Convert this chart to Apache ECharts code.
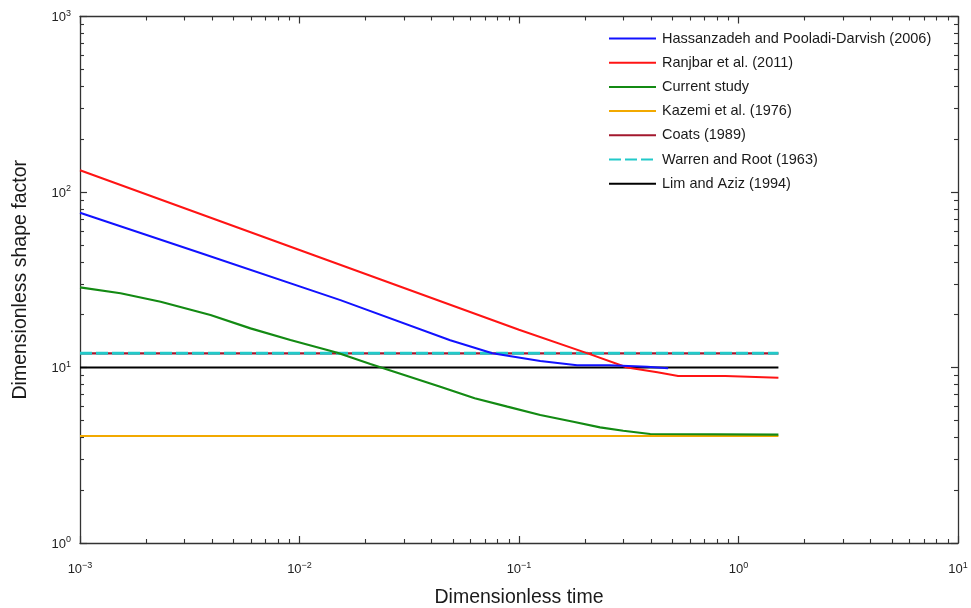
<!DOCTYPE html>
<html>
<head>
<meta charset="utf-8">
<script src="https://cdn.jsdelivr.net/npm/echarts@6/dist/echarts.min.js"></script>
<style>
html,body{margin:0;padding:0;background:#fff;}
#c{width:971px;height:608px;}
</style>
</head>
<body>
<div id="c"></div>
<script>
// ---- data ----
const seriesNames = [
  'Hassanzadeh and Pooladi-Darvish (2006)',
  'Ranjbar et al. (2011)',
  'Current study',
  'Kazemi et al. (1976)',
  'Coats (1989)',
  'Warren and Root (1963)',
  'Lim and Aziz (1994)'
];
const hassanT = [0.001, 0.00354, 0.01536, 0.0486, 0.0756, 0.125, 0.184, 0.258, 0.384, 0.478];
const hassanV = [76.2, 44.9, 24.2, 14.3, 12.05, 10.9, 10.3, 10.3, 10.1, 9.9];
const ranjbarT = [0.001, 0.01, 0.1, 0.207, 0.311, 0.427, 0.531, 0.87, 0.875, 1.52];
const ranjbarV = [133, 46.7, 16.4, 12.0, 10.0, 9.39, 8.94, 8.94, 8.75, 8.75];
const currentT = [0.001, 0.00153, 0.00233, 0.00393, 0.00598, 0.00909, 0.01488, 0.02103, 0.0438, 0.0628, 0.0885, 0.125, 0.1768, 0.234, 0.2985, 0.396, 1.52];
const currentV = [28.6, 26.5, 23.7, 19.9, 16.7, 14.35, 12.14, 10.47, 7.77, 6.68, 5.98, 5.36, 4.91, 4.56, 4.36, 4.18, 4.15];
const flatT = [0.001, 1.52];
const kazemiV = [4.07, 4.07];
const coatsV = [12.05, 12.05];
const warrenV = [12.05, 12.05];
const limV = [10, 10];
const xExponents = [-3, -2, -1, 0, 1];
const yExponents = [0, 1, 2, 3];

// ---- helpers ----
const FONT = 'Liberation Sans, Arial, Helvetica, sans-serif';
function pairs(xs, ys) { return xs.map((x, i) => [x, ys[i]]); }
function minorLogs(exps) {
  const out = [];
  for (let i = 0; i < exps.length - 1; i++) {
    for (let k = 2; k <= 9; k++) out.push(exps[i] + Math.log10(k));
  }
  return out;
}
function expLabel(v) {
  const e = Math.round(Math.log10(v));
  return '{b|10}{s|' + (e < 0 ? '\u2212' + (-e) : e) + '}';
}
const rich = {
  b: { fontSize: 13, fontFamily: FONT, color: '#222', lineHeight: 15, verticalAlign: 'bottom' },
  s: { fontSize: 9, fontFamily: FONT, color: '#222', lineHeight: 15, verticalAlign: 'top' }
};
const axisColor = '#333';
const xMin = Math.pow(10, xExponents[0]), xMax = Math.pow(10, xExponents[xExponents.length - 1]);
const yMin = Math.pow(10, yExponents[0]), yMax = Math.pow(10, yExponents[yExponents.length - 1]);

function logAxis(pos, min, max, labels, extra) {
  return Object.assign({
    type: 'log', logBase: 10, position: pos, min: min, max: max,
    axisLine: { show: true, onZero: false, lineStyle: { color: axisColor, width: 1.3 } },
    axisTick: { show: true, inside: true, length: 7, lineStyle: { color: axisColor, width: 1.2 } },
    axisLabel: labels ? { show: true, formatter: expLabel, rich: rich, margin: pos === 'left' ? 9 : 18 } : { show: false },
    splitLine: { show: false }, minorTick: { show: false }
  }, extra || {});
}
function minorAxis(pos, exps) {
  return {
    type: 'value', position: pos, min: exps[0], max: exps[exps.length - 1],
    axisLine: { show: false, onZero: false },
    axisTick: { show: true, inside: true, length: 4, customValues: minorLogs(exps), lineStyle: { color: axisColor, width: 1.1 } },
    axisLabel: { show: false }, splitLine: { show: false }
  };
}

const chart = echarts.init(document.getElementById('c'), null, { renderer: 'canvas' });
function line(name, data, color, width, type, z) {
  return {
    name: name, type: 'line', data: data, xAxisIndex: 0, yAxisIndex: 0,
    symbol: 'none', showSymbol: false, z: z, animation: false,
    lineStyle: { color: color, width: width, type: type || 'solid' },
    itemStyle: { color: color }
  };
}
const option = {
  animation: false,
  backgroundColor: '#fff',
  grid: { left: 80, right: 13, top: 16.5, bottom: 65, containLabel: false, outerBoundsMode: 'none' },
  legend: {
    orient: 'vertical', left: 603, top: 26,
    itemWidth: 47, itemHeight: 14, itemGap: 9.2,
    itemStyle: { opacity: 0 },
    textStyle: { fontSize: 14.5, fontFamily: FONT, color: '#1a1a1a', padding: [0, 0, 0, 1] },
    data: seriesNames
  },
  xAxis: [
    Object.assign(logAxis('bottom', xMin, xMax, true), {
      name: 'Dimensionless time', nameLocation: 'middle', nameGap: 45,
      nameTextStyle: { fontSize: 19.5, fontFamily: FONT, color: '#1a1a1a' }
    }),
    minorAxis('bottom', xExponents),
    logAxis('top', xMin, xMax, false),
    minorAxis('top', xExponents)
  ],
  yAxis: [
    Object.assign(logAxis('left', yMin, yMax, true), {
      name: 'Dimensionless shape factor', nameLocation: 'middle', nameGap: 49,
      nameTextStyle: { fontSize: 19.5, fontFamily: FONT, color: '#1a1a1a' }
    }),
    minorAxis('left', yExponents),
    logAxis('right', yMin, yMax, false),
    minorAxis('right', yExponents)
  ],
  series: [
    line(seriesNames[6], pairs(flatT, limV), '#000000', 2, 'solid', 2),
    line(seriesNames[3], pairs(flatT, kazemiV), '#f2a900', 2, 'solid', 2),
    line(seriesNames[4], pairs(flatT, coatsV), '#a3182e', 2.2, 'solid', 2),
    line(seriesNames[5], pairs(flatT, warrenV), '#22c9c9', 3, [12, 4], 3),
    line(seriesNames[2], pairs(currentT, currentV), '#138a13', 2.2, 'solid', 4),
    line(seriesNames[1], pairs(ranjbarT, ranjbarV), '#ff1414', 2, 'solid', 4),
    line(seriesNames[0], pairs(hassanT, hassanV), '#1212ff', 2, 'solid', 5)
  ]
};
chart.setOption(option);
</script>
</body>
</html>
